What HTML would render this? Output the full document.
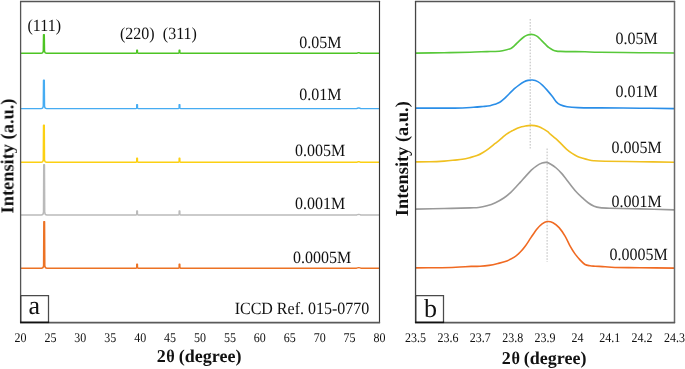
<!DOCTYPE html>
<html><head><meta charset="utf-8"><style>
html,body{margin:0;padding:0;background:#fff;}
svg{display:block;}
text{font-family:"Liberation Serif",serif;fill:#111;text-rendering:geometricPrecision;}
.t{filter:grayscale(1);}
</style></head><body>
<svg width="685" height="369" viewBox="0 0 685 369">
<rect width="685" height="369" fill="#fff"/>
<line x1="530.2" y1="19" x2="530.2" y2="148.5" stroke="#bcbcbc" stroke-width="1" stroke-dasharray="1.6 1.45"/>
<line x1="547.1" y1="148.5" x2="547.1" y2="262" stroke="#bcbcbc" stroke-width="1" stroke-dasharray="1.6 1.45"/>
<path d="M21.0,53.3 L41.10,53.30 Q43.15,53.30 43.25,50.70 L43.50,34.70 L44.30,34.70 L44.55,50.70 Q44.65,53.30 46.70,53.30 L136.10,53.30 Q136.65,53.30 136.70,52.50 L136.75,50.30 L137.45,50.30 L137.50,52.50 Q137.55,53.30 138.10,53.30 L178.50,53.30 Q179.05,53.30 179.10,52.50 L179.15,50.30 L179.85,50.30 L179.90,52.50 Q179.95,53.30 180.50,53.30 L356.50,53.30 Q358.10,52.50 358.70,52.80 Q359.30,52.50 360.90,53.30 L379.3,53.3" fill="none" stroke="#4cc423" stroke-width="1.4" stroke-linejoin="round"/>
<path d="M21.0,108.6 L41.10,108.60 Q43.15,108.60 43.25,106.00 L43.50,80.20 L44.30,80.20 L44.55,106.00 Q44.65,108.60 46.70,108.60 L136.10,108.60 Q136.65,108.60 136.70,107.80 L136.75,104.60 L137.45,104.60 L137.50,107.80 Q137.55,108.60 138.10,108.60 L178.50,108.60 Q179.05,108.60 179.10,107.80 L179.15,104.60 L179.85,104.60 L179.90,107.80 Q179.95,108.60 180.50,108.60 L356.50,108.60 Q358.10,107.80 358.70,108.10 Q359.30,107.80 360.90,108.60 L379.3,108.6" fill="none" stroke="#46acf2" stroke-width="1.4" stroke-linejoin="round"/>
<path d="M21.0,162.3 L41.10,162.30 Q43.15,162.30 43.25,159.70 L43.50,125.20 L44.30,125.20 L44.55,159.70 Q44.65,162.30 46.70,162.30 L136.10,162.30 Q136.65,162.30 136.70,161.50 L136.75,158.30 L137.45,158.30 L137.50,161.50 Q137.55,162.30 138.10,162.30 L178.50,162.30 Q179.05,162.30 179.10,161.50 L179.15,158.30 L179.85,158.30 L179.90,161.50 Q179.95,162.30 180.50,162.30 L356.50,162.30 Q358.10,161.50 358.70,161.80 Q359.30,161.50 360.90,162.30 L379.3,162.3" fill="none" stroke="#fcd012" stroke-width="1.4" stroke-linejoin="round"/>
<path d="M21.0,215.0 L41.30,215.00 Q43.35,215.00 43.45,212.40 L43.70,164.80 L44.50,164.80 L44.75,212.40 Q44.85,215.00 46.90,215.00 L136.10,215.00 Q136.65,215.00 136.70,214.20 L136.75,211.00 L137.45,211.00 L137.50,214.20 Q137.55,215.00 138.10,215.00 L178.50,215.00 Q179.05,215.00 179.10,214.20 L179.15,211.00 L179.85,211.00 L179.90,214.20 Q179.95,215.00 180.50,215.00 L356.50,215.00 Q358.10,214.20 358.70,214.50 Q359.30,214.20 360.90,215.00 L379.3,215.0" fill="none" stroke="#bababa" stroke-width="1.4" stroke-linejoin="round"/>
<path d="M21.0,268.2 L41.40,268.20 Q43.45,268.20 43.55,265.60 L43.80,221.60 L44.60,221.60 L44.85,265.60 Q44.95,268.20 47.00,268.20 L136.10,268.20 Q136.65,268.20 136.70,267.40 L136.75,264.20 L137.45,264.20 L137.50,267.40 Q137.55,268.20 138.10,268.20 L178.50,268.20 Q179.05,268.20 179.10,267.40 L179.15,264.20 L179.85,264.20 L179.90,267.40 Q179.95,268.20 180.50,268.20 L356.50,268.20 Q358.10,267.40 358.70,267.70 Q359.30,267.40 360.90,268.20 L379.3,268.2" fill="none" stroke="#ec7224" stroke-width="1.4" stroke-linejoin="round"/>
<path d="M415.50,53.10 C420.25,53.03 434.92,52.85 444.00,52.70 C453.08,52.55 462.83,52.38 470.00,52.20 C477.17,52.02 482.83,51.72 487.00,51.60 C491.17,51.48 492.40,51.65 495.00,51.50 C497.60,51.35 499.95,51.22 502.60,50.70 C505.25,50.18 508.88,49.28 510.90,48.40 C512.92,47.52 513.30,46.67 514.70,45.40 C516.10,44.13 517.78,42.20 519.30,40.80 C520.82,39.40 522.42,37.95 523.80,37.00 C525.18,36.05 526.45,35.53 527.60,35.10 C528.75,34.67 529.67,34.45 530.70,34.40 C531.73,34.35 532.65,34.43 533.80,34.80 C534.95,35.17 536.33,35.67 537.60,36.60 C538.87,37.53 540.13,39.13 541.40,40.40 C542.67,41.67 543.93,42.98 545.20,44.20 C546.47,45.42 547.73,46.75 549.00,47.70 C550.27,48.65 551.53,49.33 552.80,49.90 C554.07,50.47 555.33,50.85 556.60,51.10 C557.87,51.35 558.17,51.32 560.40,51.40 C562.63,51.48 565.90,51.53 570.00,51.60 C574.10,51.67 580.00,51.68 585.00,51.80 C590.00,51.92 590.83,52.15 600.00,52.30 C609.17,52.45 627.58,52.58 640.00,52.70 C652.42,52.82 668.75,52.95 674.50,53.00" fill="none" stroke="#58c83a" stroke-width="1.6" stroke-linejoin="round"/>
<path d="M415.50,108.10 C421.98,108.10 444.75,108.23 454.40,108.10 C464.05,107.97 468.63,107.57 473.40,107.30 C478.17,107.03 480.23,106.77 483.00,106.50 C485.77,106.23 488.02,106.07 490.00,105.70 C491.98,105.33 493.27,104.87 494.90,104.30 C496.53,103.73 498.18,103.28 499.80,102.30 C501.42,101.32 502.98,99.87 504.60,98.40 C506.22,96.93 507.87,95.12 509.50,93.50 C511.13,91.88 512.77,90.15 514.40,88.70 C516.03,87.25 517.68,85.95 519.30,84.80 C520.92,83.65 522.65,82.53 524.10,81.80 C525.55,81.07 526.62,80.70 528.00,80.40 C529.38,80.10 530.77,79.80 532.40,80.00 C534.03,80.20 536.10,80.72 537.80,81.60 C539.50,82.48 540.98,83.80 542.60,85.30 C544.22,86.80 545.87,88.73 547.50,90.60 C549.13,92.47 550.93,94.62 552.40,96.50 C553.87,98.38 555.00,100.52 556.30,101.90 C557.60,103.28 558.40,104.00 560.20,104.80 C562.00,105.60 564.13,106.23 567.10,106.70 C570.07,107.17 572.52,107.40 578.00,107.60 C583.48,107.80 589.67,107.80 600.00,107.90 C610.33,108.00 627.58,108.08 640.00,108.20 C652.42,108.32 668.75,108.53 674.50,108.60" fill="none" stroke="#2a8ee8" stroke-width="1.6" stroke-linejoin="round"/>
<path d="M415.50,161.90 C417.85,161.88 424.82,161.93 429.60,161.80 C434.38,161.67 439.97,161.38 444.20,161.10 C448.43,160.82 451.98,160.40 455.00,160.10 C458.02,159.80 459.87,159.70 462.30,159.30 C464.73,158.90 467.15,158.32 469.60,157.70 C472.05,157.08 474.77,156.47 477.00,155.60 C479.23,154.73 480.98,153.72 483.00,152.50 C485.02,151.28 487.07,149.82 489.10,148.30 C491.13,146.78 493.38,144.83 495.20,143.40 C497.02,141.97 498.48,140.97 500.00,139.70 C501.52,138.43 502.85,136.95 504.30,135.80 C505.75,134.65 507.25,133.70 508.70,132.80 C510.15,131.90 511.57,131.17 513.00,130.40 C514.43,129.63 515.85,128.82 517.30,128.20 C518.75,127.58 520.25,127.08 521.70,126.70 C523.15,126.32 524.57,126.12 526.00,125.90 C527.43,125.68 528.85,125.45 530.30,125.40 C531.75,125.35 533.25,125.38 534.70,125.60 C536.15,125.82 537.57,126.15 539.00,126.70 C540.43,127.25 541.85,128.07 543.30,128.90 C544.75,129.73 546.52,130.82 547.70,131.70 C548.88,132.58 549.05,133.03 550.40,134.20 C551.75,135.37 554.00,137.08 555.80,138.70 C557.60,140.32 559.38,142.13 561.20,143.90 C563.02,145.67 564.88,147.72 566.70,149.30 C568.52,150.88 570.30,152.22 572.10,153.40 C573.90,154.58 575.70,155.58 577.50,156.40 C579.30,157.22 581.10,157.73 582.90,158.30 C584.70,158.87 586.50,159.40 588.30,159.80 C590.10,160.20 590.92,160.47 593.70,160.70 C596.48,160.93 597.28,161.03 605.00,161.20 C612.72,161.37 628.42,161.52 640.00,161.70 C651.58,161.88 668.75,162.20 674.50,162.30" fill="none" stroke="#f0c020" stroke-width="1.6" stroke-linejoin="round"/>
<path d="M415.50,209.10 C420.28,209.00 435.12,208.70 444.20,208.50 C453.28,208.30 464.28,208.07 470.00,207.90 C475.72,207.73 475.68,207.85 478.50,207.50 C481.32,207.15 484.08,206.60 486.90,205.80 C489.72,205.00 492.58,204.00 495.40,202.70 C498.22,201.40 501.23,199.72 503.80,198.00 C506.37,196.28 508.85,194.15 510.80,192.40 C512.75,190.65 513.90,189.22 515.50,187.50 C517.10,185.78 518.68,184.00 520.40,182.10 C522.12,180.20 523.98,178.08 525.80,176.10 C527.62,174.12 529.48,171.92 531.30,170.20 C533.12,168.48 534.90,166.98 536.70,165.80 C538.50,164.62 540.47,163.67 542.10,163.10 C543.73,162.53 545.05,162.22 546.50,162.40 C547.95,162.58 549.18,163.27 550.80,164.20 C552.42,165.13 554.40,166.47 556.20,168.00 C558.00,169.53 560.02,171.65 561.60,173.40 C563.18,175.15 564.07,176.42 565.70,178.50 C567.33,180.58 569.50,183.52 571.40,185.90 C573.30,188.28 575.20,190.75 577.10,192.80 C579.00,194.85 580.90,196.50 582.80,198.20 C584.70,199.90 586.60,201.67 588.50,203.00 C590.40,204.33 592.30,205.43 594.20,206.20 C596.10,206.97 597.27,207.27 599.90,207.60 C602.53,207.93 603.32,207.98 610.00,208.20 C616.68,208.42 629.25,208.62 640.00,208.90 C650.75,209.18 668.75,209.73 674.50,209.90" fill="none" stroke="#999999" stroke-width="1.6" stroke-linejoin="round"/>
<path d="M415.50,267.90 C418.82,267.87 428.67,267.82 435.40,267.70 C442.13,267.58 449.93,267.42 455.90,267.20 C461.87,266.98 467.18,266.55 471.20,266.40 C475.22,266.25 477.03,266.47 480.00,266.30 C482.97,266.13 486.02,265.87 489.00,265.40 C491.98,264.93 494.92,264.25 497.90,263.50 C500.88,262.75 504.17,261.95 506.90,260.90 C509.63,259.85 512.07,258.68 514.30,257.20 C516.53,255.72 518.52,253.78 520.30,252.00 C522.08,250.22 523.20,248.93 525.00,246.50 C526.80,244.07 529.07,240.35 531.10,237.40 C533.13,234.45 535.37,231.05 537.20,228.80 C539.03,226.55 540.47,225.12 542.10,223.90 C543.73,222.68 545.18,221.70 547.00,221.50 C548.82,221.30 550.98,221.68 553.00,222.70 C555.02,223.72 557.07,225.33 559.10,227.60 C561.13,229.87 563.38,233.25 565.20,236.30 C567.02,239.35 568.37,242.97 570.00,245.90 C571.63,248.83 573.33,251.57 575.00,253.90 C576.67,256.23 578.33,258.13 580.00,259.90 C581.67,261.67 583.33,263.52 585.00,264.50 C586.67,265.48 588.32,265.52 590.00,265.80 C591.68,266.08 592.58,266.05 595.10,266.20 C597.62,266.35 601.78,266.48 605.10,266.70 C608.42,266.92 609.18,267.33 615.00,267.50 C620.82,267.67 630.08,267.60 640.00,267.70 C649.92,267.80 668.75,268.03 674.50,268.10" fill="none" stroke="#f06a22" stroke-width="1.6" stroke-linejoin="round"/>
<path d="M20.0,1.5 H380.1" fill="none" stroke="#555" stroke-width="1.3"/><path d="M20.6,1 V323" fill="none" stroke="#555" stroke-width="1.3"/><path d="M379.5,1 V323" fill="none" stroke="#383838" stroke-width="1.15"/><path d="M20.0,322.7 H380.1" fill="none" stroke="#5a5a5a" stroke-width="1.7"/>
<path d="M414.95,1.5 H675.1" fill="none" stroke="#555" stroke-width="1.3"/><path d="M415.55,1 V323" fill="none" stroke="#454545" stroke-width="1.3"/><path d="M674.5,1 V323" fill="none" stroke="#6a6a6a" stroke-width="1.5"/><path d="M414.95,322.7 H675.1" fill="none" stroke="#5a5a5a" stroke-width="1.7"/>
<rect x="20.8" y="295.5" width="27.7" height="26.8" fill="#fff"/><path d="M20.8,295.5 H48.5 V322.4" fill="none" stroke="#4a4a4a" stroke-width="1.25"/><path d="M20.8,295.5 V322.5" fill="none" stroke="#333" stroke-width="1.35"/><path d="M20.2,322.3 H49.1" fill="none" stroke="#111" stroke-width="1.6"/>
<rect x="415.8" y="295.5" width="27.7" height="26.8" fill="#fff"/><path d="M415.8,295.5 H443.5 V322.4" fill="none" stroke="#4a4a4a" stroke-width="1.25"/><path d="M415.8,295.5 V322.5" fill="none" stroke="#333" stroke-width="1.35"/><path d="M415.2,322.3 H444.1" fill="none" stroke="#111" stroke-width="1.6"/>
<g class="t"><text x="28.5" y="313.5" font-size="26">a</text>
<text x="424" y="317.4" font-size="26">b</text>
<text transform="translate(341.50,47.90) scale(1,1.07)" font-size="16" text-anchor="end">0.05M</text>
<text transform="translate(341.50,100.00) scale(1,1.07)" font-size="16" text-anchor="end">0.01M</text>
<text transform="translate(345.20,156.30) scale(1,1.07)" font-size="16" text-anchor="end">0.005M</text>
<text transform="translate(345.20,209.40) scale(1,1.07)" font-size="16" text-anchor="end">0.001M</text>
<text transform="translate(351.20,263.40) scale(1,1.07)" font-size="16" text-anchor="end">0.0005M</text>
<text transform="translate(657.80,44.00) scale(1,1.07)" font-size="16" text-anchor="end">0.05M</text>
<text transform="translate(657.80,96.90) scale(1,1.07)" font-size="16" text-anchor="end">0.01M</text>
<text transform="translate(661.80,152.70) scale(1,1.07)" font-size="16" text-anchor="end">0.005M</text>
<text transform="translate(661.80,206.60) scale(1,1.07)" font-size="16" text-anchor="end">0.001M</text>
<text transform="translate(667.70,259.90) scale(1,1.07)" font-size="16" text-anchor="end">0.0005M</text>
<text transform="translate(27.50,30.80) scale(1,1.07)" font-size="16">(111)</text>
<text transform="translate(120.00,38.50) scale(1,1.07)" font-size="16">(220)</text>
<text transform="translate(162.80,38.80) scale(1,1.07)" font-size="16">(311)</text>
<text transform="translate(369.30,313.60) scale(1,1.07)" font-size="16" text-anchor="end">ICCD Ref. 015-0770</text>
<text transform="translate(20.50,341.90) scale(1,1.11)" font-size="12" text-anchor="middle">20</text>
<text transform="translate(50.42,341.90) scale(1,1.11)" font-size="12" text-anchor="middle">25</text>
<text transform="translate(80.33,341.90) scale(1,1.11)" font-size="12" text-anchor="middle">30</text>
<text transform="translate(110.25,341.90) scale(1,1.11)" font-size="12" text-anchor="middle">35</text>
<text transform="translate(140.17,341.90) scale(1,1.11)" font-size="12" text-anchor="middle">40</text>
<text transform="translate(170.08,341.90) scale(1,1.11)" font-size="12" text-anchor="middle">45</text>
<text transform="translate(200.00,341.90) scale(1,1.11)" font-size="12" text-anchor="middle">50</text>
<text transform="translate(229.92,341.90) scale(1,1.11)" font-size="12" text-anchor="middle">55</text>
<text transform="translate(259.83,341.90) scale(1,1.11)" font-size="12" text-anchor="middle">60</text>
<text transform="translate(289.75,341.90) scale(1,1.11)" font-size="12" text-anchor="middle">65</text>
<text transform="translate(319.67,341.90) scale(1,1.11)" font-size="12" text-anchor="middle">70</text>
<text transform="translate(349.58,341.90) scale(1,1.11)" font-size="12" text-anchor="middle">75</text>
<text transform="translate(379.50,341.90) scale(1,1.11)" font-size="12" text-anchor="middle">80</text>
<text transform="translate(415.50,341.90) scale(1,1.11)" font-size="12" text-anchor="middle">23.5</text>
<text transform="translate(447.88,341.90) scale(1,1.11)" font-size="12" text-anchor="middle">23.6</text>
<text transform="translate(480.25,341.90) scale(1,1.11)" font-size="12" text-anchor="middle">23.7</text>
<text transform="translate(512.63,341.90) scale(1,1.11)" font-size="12" text-anchor="middle">23.8</text>
<text transform="translate(545.00,341.90) scale(1,1.11)" font-size="12" text-anchor="middle">23.9</text>
<text transform="translate(577.38,341.90) scale(1,1.11)" font-size="12" text-anchor="middle">24</text>
<text transform="translate(609.75,341.90) scale(1,1.11)" font-size="12" text-anchor="middle">24.1</text>
<text transform="translate(642.12,341.90) scale(1,1.11)" font-size="12" text-anchor="middle">24.2</text>
<text transform="translate(674.50,341.90) scale(1,1.11)" font-size="12" text-anchor="middle">24.3</text>
<text x="156.7" y="362.4" font-size="18" font-weight="bold">2</text><text transform="translate(166.3,362.4) scale(0.9,1)" font-size="18" font-weight="bold">θ</text><text x="178.8" y="362.4" font-size="18" font-weight="bold">(degree)</text>
<text x="501.7" y="364.1" font-size="18" font-weight="bold">2</text><text transform="translate(511.4,364.1) scale(0.9,1)" font-size="18" font-weight="bold">θ</text><text x="523.8" y="364.1" font-size="18" font-weight="bold">(degree)</text>
<text transform="translate(13.4,156.0) rotate(-90)" font-size="18.4" font-weight="bold" text-anchor="middle">Intensity (a.u.)</text>
<text transform="translate(408.0,158.7) rotate(-90)" font-size="18.4" font-weight="bold" text-anchor="middle">Intensity (a.u.)</text>
</g></svg></body></html>
